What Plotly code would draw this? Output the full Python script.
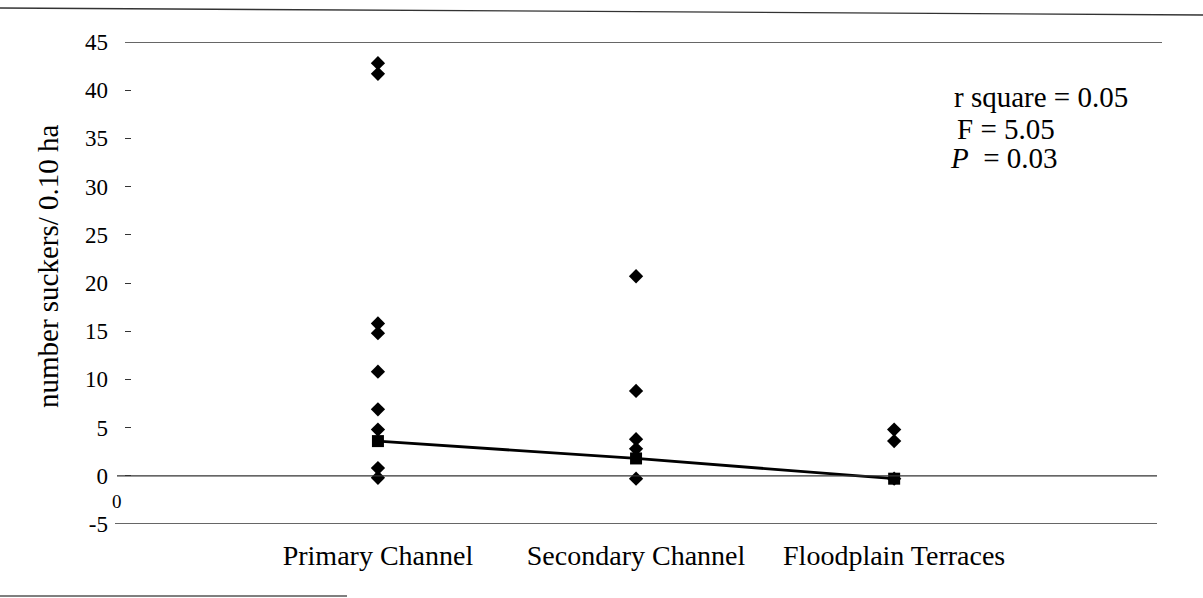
import plotly.graph_objects as go

# ---- data ----
categories = ["Primary Channel", "Secondary Channel", "Floodplain Terraces"]
primary_counts = [42.8, 41.7, 15.8, 14.8, 10.8, 6.9, 4.8, 0.8, -0.2]
secondary_counts = [20.7, 8.8, 3.8, 2.8, -0.3]
floodplain_counts = [4.8, 3.6, -0.3]
predicted = [3.6, 1.8, -0.3]
y_ticks = [-5, 0, 5, 10, 15, 20, 25, 30, 35, 40, 45]
grid_y = [45, 0, -5]
stats_lines = ["r square = 0.05", "F = 5.05", "<i>P</i>  = 0.03"]
y_title = "number suckers/ 0.10 ha"

FONT = "Liberation Serif, Times New Roman, serif"

W, H = 1203, 598
L, R, T, B = 125, 43, 42, 74
plot_w = W - L - R
plot_h = H - T - B

def px_x(p):
    return (p - L) / plot_w

def px_y(p):
    return (H - B - p) / plot_h

xs, ys = [], []
for cat, vals in zip(categories, [primary_counts, secondary_counts, floodplain_counts]):
    xs += [cat] * len(vals)
    ys += vals

fig = go.Figure()
fig.add_trace(go.Scatter(
    x=xs, y=ys, mode="markers",
    marker=dict(symbol="diamond", size=11, color="black"),
    showlegend=False, hoverinfo="skip",
))
fig.add_trace(go.Scatter(
    x=categories, y=predicted, mode="lines+markers",
    line=dict(color="black", width=2.8),
    marker=dict(symbol="square", size=12, color="black"),
    showlegend=False, hoverinfo="skip",
))

shapes = []
for gy, (x0, x1) in zip(grid_y, [(125, 1162), (117, 1157), (115, 1157)]):
    shapes.append(dict(type="line", xref="paper", yref="y",
                       x0=px_x(x0), x1=px_x(x1), y0=gy, y1=gy,
                       line=dict(color="#333333", width=1.3)))
# scan border lines
shapes.append(dict(type="line", xref="paper", yref="paper",
                   x0=px_x(0), x1=px_x(1203), y0=px_y(8), y1=px_y(15),
                   line=dict(color="#333333", width=1.3)))
shapes.append(dict(type="line", xref="paper", yref="paper",
                   x0=px_x(0), x1=px_x(347), y0=px_y(596), y1=px_y(596),
                   line=dict(color="#555555", width=1.3)))

annotations = []
for txt, yp, xp in zip(stats_lines, [97, 129, 158], [952, 955, 948]):
    annotations.append(dict(text=txt, xref="paper", yref="paper",
                            x=px_x(xp), y=px_y(yp), xanchor="left", yanchor="middle",
                            showarrow=False, font=dict(family=FONT, size=29, color="black")))
annotations.append(dict(text="0", xref="paper", yref="paper",
                        x=px_x(117), y=px_y(501), xanchor="center", yanchor="middle",
                        showarrow=False, font=dict(family=FONT, size=19, color="black")))
annotations.append(dict(text=y_title, xref="paper", yref="paper", textangle=-90,
                        x=px_x(48), y=px_y(266), xanchor="center", yanchor="middle",
                        showarrow=False, font=dict(family=FONT, size=29, color="black")))

fig.update_layout(
    width=W, height=H,
    margin=dict(l=L, r=R, t=T, b=B, pad=0),
    paper_bgcolor="white", plot_bgcolor="white",
    font=dict(family=FONT, color="black"),
    shapes=shapes, annotations=annotations,
    xaxis=dict(
        type="category", categoryorder="array", categoryarray=categories,
        range=[-0.98, 3.03], showgrid=False, zeroline=False, showline=False,
        ticks="", tickfont=dict(family=FONT, size=28, color="black"),
        ticklabelstandoff=12,
    ),
    yaxis=dict(
        range=[-5, 45], tickvals=y_ticks, ticktext=[str(v) for v in y_ticks],
        showgrid=False, zeroline=False, showline=False,
        ticks="inside", ticklen=6, tickwidth=1.3, tickcolor="#333333",
        tickfont=dict(family=FONT, size=23, color="black"),
        ticklabelstandoff=16,
    ),
)

fig.write_html("out.html")
